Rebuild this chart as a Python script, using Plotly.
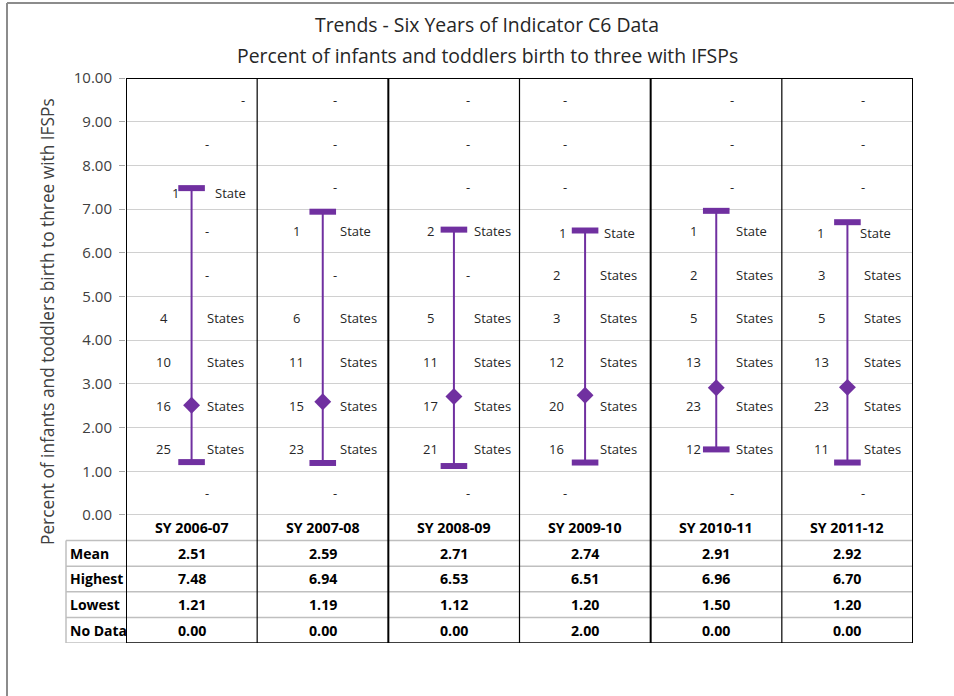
import plotly.graph_objects as go

# ---------------- data ----------------
years = ["SY 2006-07", "SY 2007-08", "SY 2008-09", "SY 2009-10", "SY 2010-11", "SY 2011-12"]
mean_vals = [2.51, 2.59, 2.71, 2.74, 2.91, 2.92]
highest = [7.48, 6.94, 6.53, 6.51, 6.96, 6.70]
lowest = [1.21, 1.19, 1.12, 1.20, 1.50, 1.20]
no_data = [0.00, 0.00, 0.00, 2.00, 0.00, 0.00]
y_ticks = [0, 1, 2, 3, 4, 5, 6, 7, 8, 9, 10]
# number of states in each 1-point band (0-1, 1-2, ..., 9-10); None = none ("-")
counts_2006_07 = [None, 25, 16, 10, 4, None, None, 1, None, None]
counts_2007_08 = [None, 23, 15, 11, 6, None, 1, None, None, None]
counts_2008_09 = [None, 21, 17, 11, 5, None, 2, None, None, None]
counts_2009_10 = [None, 16, 20, 12, 3, 2, 1, None, None, None]
counts_2010_11 = [None, 12, 23, 13, 5, 2, 1, None, None, None]
counts_2011_12 = [None, 11, 23, 13, 5, 3, 1, None, None, None]
band_lows = [0, 1, 2, 3, 4, 5, 6, 7, 8, 9]
row_names = ["Mean", "Highest", "Lowest", "No Data"]

all_counts = [counts_2006_07, counts_2007_08, counts_2008_09,
              counts_2009_10, counts_2010_11, counts_2011_12]
table_rows = [mean_vals, highest, lowest, no_data]

# ---------------- layout constants ----------------
PURPLE = "#7030A0"
TXT = "#262626"
GRID = "#D0D0D0"
FONT = "Open Sans"
ROW_H = 0.586          # table row height in y-units
Y_BOTTOM = -5 * ROW_H
PLOT_L, PLOT_R, PLOT_T, PLOT_B = 126, 913, 78, 643
W, H = 954, 696
PW = PLOT_R - PLOT_L
PH = PLOT_B - PLOT_T

def px_x(p):
    return (p - PLOT_L) / PW

def px_y(p):
    return (PLOT_B - p) / PH

num_dx = [-28, -26, -23, -29, -23, -26]
txt_dx = [13, 15, 18, 13, 18, 15]
dash_dx = [15, 12, 14, -20, 16, 16]
dash_override = {(0, 9): 51}
# (column, band) -> (number shift, word shift, y shift) for labels placed near caps
label_override = {(0, 7): (-16, 21, -6), (3, 6): (-23, 17, -2), (5, 6): (-27, 11, -2)}

centers = [i + 0.5 for i in range(len(years))]

fig = go.Figure()

# range lines (lowest -> highest)
lx, ly = [], []
for c, lo, hi in zip(centers, lowest, highest):
    lx += [c, c, None]
    ly += [lo, hi, None]
fig.add_trace(go.Scatter(x=lx, y=ly, mode="lines",
                         line=dict(color=PURPLE, width=2),
                         hoverinfo="skip", showlegend=False))
# caps
fig.add_trace(go.Scatter(x=centers + centers, y=highest + lowest, mode="markers",
                         marker=dict(symbol="line-ew", size=19,
                                     line=dict(color=PURPLE, width=6)),
                         showlegend=False))
# mean
fig.add_trace(go.Scatter(x=centers, y=mean_vals, mode="markers",
                         marker=dict(symbol="diamond", size=13, color=PURPLE),
                         showlegend=False))

ann = []
# band labels
for i, counts in enumerate(all_counts):
    for b, cnt in zip(band_lows, counts):
        yv = b + 0.5
        if cnt is None:
            ann.append(dict(x=centers[i], y=yv, xref="x", yref="y", text="-",
                            showarrow=False, xshift=dash_override.get((i, b), dash_dx[i]),
                            font=dict(size=13, color=TXT, family=FONT)))
        else:
            ndx, tdx, ys = label_override.get((i, b), (num_dx[i], txt_dx[i], 0))
            ann.append(dict(x=centers[i], y=yv, xref="x", yref="y", text=str(cnt),
                            showarrow=False, xshift=ndx, yshift=ys,
                            font=dict(size=13, color=TXT, family=FONT)))
            ann.append(dict(x=centers[i], y=yv, xref="x", yref="y",
                            text="State" if cnt == 1 else "States",
                            showarrow=False, xanchor="left", xshift=tdx, yshift=ys,
                            font=dict(size=13, color=TXT, family=FONT)))

# table: header row + value rows
for i, yr in enumerate(years):
    ann.append(dict(x=centers[i], y=-0.5 * ROW_H, xref="x", yref="y",
                    text="<b>" + yr + "</b>", showarrow=False,
                    font=dict(size=14.2, color="#000000", family=FONT)))
    for r, vals in enumerate(table_rows):
        ann.append(dict(x=centers[i], y=-(r + 1.5) * ROW_H, xref="x", yref="y",
                        text="<b>%.2f</b>" % vals[i], showarrow=False,
                        font=dict(size=14.2, color="#000000", family=FONT)))
for r, name in enumerate(row_names):
    ann.append(dict(x=px_x(68), y=-(r + 1.5) * ROW_H, xref="paper", yref="y",
                    text="<b>" + name + "</b>", showarrow=False, xanchor="left",
                    font=dict(size=14, color="#000000", family=FONT)))

# titles
ann.append(dict(x=(487 - PLOT_L) / PW, y=px_y(25), xref="paper", yref="paper",
                xanchor="center", yanchor="middle",
                text="Trends - Six Years of Indicator C6 Data", showarrow=False,
                font=dict(size=19.4, color=TXT, family=FONT)))
ann.append(dict(x=(487 - PLOT_L) / PW, y=px_y(55), xref="paper", yref="paper",
                xanchor="center", yanchor="middle",
                text="Percent of infants and toddlers birth to three with IFSPs", showarrow=False,
                font=dict(size=19.4, color=TXT, family=FONT)))
ann.append(dict(x=px_x(47), y=px_y(322), xref="paper", yref="paper", textangle=-90,
                xanchor="center", yanchor="middle",
                text="Percent of infants and toddlers birth to three with IFSPs", showarrow=False,
                font=dict(size=17.3, color="#404040", family=FONT)))

shapes = []
# table gray row lines
for r in range(1, 5):
    shapes.append(dict(type="line", xref="paper", yref="y", x0=px_x(66), x1=1,
                       y0=-r * ROW_H, y1=-r * ROW_H, line=dict(color="#BFBFBF", width=1.5)))
# label column box
shapes.append(dict(type="line", xref="paper", yref="y", x0=px_x(66), x1=px_x(66),
                   y0=-ROW_H, y1=Y_BOTTOM, line=dict(color="#BFBFBF", width=1.5)))
shapes.append(dict(type="line", xref="paper", yref="y", x0=px_x(66), x1=0,
                   y0=Y_BOTTOM, y1=Y_BOTTOM, line=dict(color="#BFBFBF", width=1.5)))
# bottom black line
shapes.append(dict(type="line", xref="x", yref="y", x0=0, x1=6,
                   y0=Y_BOTTOM, y1=Y_BOTTOM, line=dict(color="#000000", width=1.5)))
# top border
shapes.append(dict(type="line", xref="x", yref="y", x0=0, x1=6,
                   y0=10, y1=10, line=dict(color="#000000", width=2)))
# column separators
for k in range(7):
    shapes.append(dict(type="line", xref="x", yref="y", x0=k, x1=k,
                       y0=Y_BOTTOM, y1=10,
                       line=dict(color="#000000", width=2 if k % 2 == 0 else 1.2)))
# outer frame
shapes.append(dict(type="line", xref="paper", yref="paper", x0=px_x(7), x1=px_x(W + 10),
                   y0=px_y(3), y1=px_y(3), line=dict(color="#8C8C8C", width=2)))
shapes.append(dict(type="line", xref="paper", yref="paper", x0=px_x(7), x1=px_x(7),
                   y0=px_y(3), y1=px_y(H + 10), line=dict(color="#8C8C8C", width=2)))

fig.update_layout(
    width=W, height=H,
    margin=dict(l=PLOT_L, r=W - PLOT_R, t=PLOT_T, b=H - PLOT_B),
    paper_bgcolor="white", plot_bgcolor="white",
    showlegend=False,
    annotations=ann, shapes=shapes,
    xaxis=dict(range=[0, 6], showgrid=False, zeroline=False, showticklabels=False,
               ticks="", showline=False, fixedrange=True),
    yaxis=dict(range=[Y_BOTTOM, 10], tickvals=y_ticks, tickformat=".2f",
               showgrid=True, gridcolor=GRID, gridwidth=1, zeroline=False,
               ticks="outside", ticklen=6, tickcolor="#A6A6A6", showline=False,
               ticklabelstandoff=4,
               tickfont=dict(size=15, color="#404040", family=FONT), fixedrange=True),
)

fig.write_html("out.html", config={"displayModeBar": False},
               post_script="document.body.style.margin='0';document.body.style.overflow='hidden';")
